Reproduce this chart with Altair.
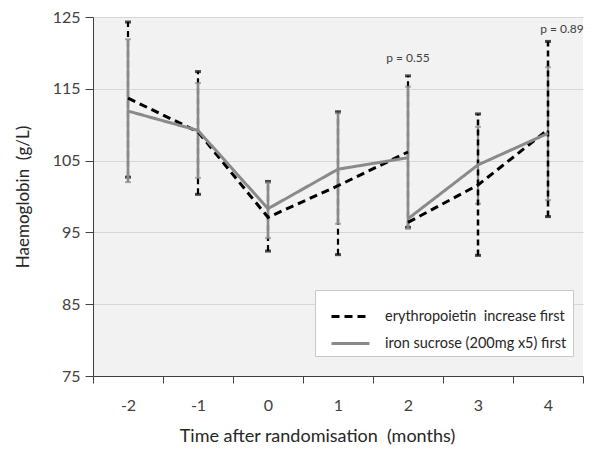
import altair as alt
import pandas as pd

NB = "\u00a0"
# ---- data ----
series_names = ["erythropoietin" + NB + " increase first", "iron sucrose (200mg x5) first"]

months_p1 = [-2, -1, 0, 1, 2]
months_p2 = [2, 3, 4]

epo_p1 = [113.7, 109.0, 97.1, 101.5, 106.2]
epo_p2 = [96.4, 101.6, 109.3]
iron_p1 = [111.9, 109.2, 98.3, 103.8, 105.4]
iron_p2 = [96.9, 104.4, 108.8]

months_err = [-2, -1, 0, 1, 2, 3, 4]
epo_low = [102.7, 100.3, 92.4, 91.9, 95.7, 91.8, 97.2]
epo_high = [124.3, 117.4, 102.1, 111.8, 116.8, 111.5, 121.6]
iron_low = [102.0, 102.6, 94.2, 96.2, 95.5, 99.0, 99.5]
iron_high = [121.9, 115.8, 101.9, 111.6, 115.3, 109.7, 118.0]

p_months = [2, 4]
p_values = [119.3, 123.3]
p_labels = ["p = 0.55", "p = 0.89"]

month_domain = [-2, -1, 0, 1, 2, 3, 4]

# ---- tables ----
rows = []
for m, v in zip(months_p1, epo_p1):
    rows.append(dict(month=m, hb=v, series=series_names[0], period="1"))
for m, v in zip(months_p2, epo_p2):
    rows.append(dict(month=m, hb=v, series=series_names[0], period="2"))
for m, v in zip(months_p1, iron_p1):
    rows.append(dict(month=m, hb=v, series=series_names[1], period="1"))
for m, v in zip(months_p2, iron_p2):
    rows.append(dict(month=m, hb=v, series=series_names[1], period="2"))
lines_df = pd.DataFrame(rows)

epo_err = pd.DataFrame(dict(month=months_err, low=epo_low, high=epo_high))
iron_err = pd.DataFrame(dict(month=months_err, low=iron_low, high=iron_high))
p_df = pd.DataFrame(dict(month=p_months, hb=p_values, label=p_labels))

FONT = "Lato"
BLACK = "#000000"
GREY = "#8a8a8a"

xscale = alt.Scale(type="band", domain=month_domain, paddingInner=0, paddingOuter=0)

xenc = alt.X(
    "month:O",
    bandPosition=0.5,
    scale=xscale,
    axis=alt.Axis(
        title="Time after randomisation" + NB + " (months)",
        labelAngle=0,
        tickBand="extent",
        tickSize=7,
        labelPadding=14,
        labelFontSize=16,
        labelColor="#404040",
        titleFontSize=18,
        titleFontWeight="normal",
        titleColor="#262626",
        titlePadding=14,
        titleX=224,
        domainColor="#404040",
        tickColor="#404040",
        labelFont=FONT,
        titleFont=FONT,
        grid=False,
    ),
)

yscale = alt.Scale(domain=[75, 125], nice=False, zero=False)
yaxis = alt.Axis(
    title="Haemoglobin" + NB + " (g/L)",
    values=[75, 85, 95, 105, 115, 125],
    tickSize=8,
    labelPadding=5,
    labelFontSize=16,
    labelColor="#404040",
    titleFontSize=17,
    titleFontWeight="normal",
    titleColor="#262626",
    titlePadding=20,
    domainColor="#404040",
    tickColor="#404040",
    gridColor="#d6d6d6",
    gridWidth=1,
    labelFont=FONT,
    titleFont=FONT,
)


def xe():
    return alt.X("month:O", bandPosition=0.5, scale=xscale)


def err_layers(df, color, dashed, width):
    if dashed:
        rmark = alt.Chart(df).mark_rule(color=color, strokeWidth=width, strokeDash=[6, 4])
    else:
        rmark = alt.Chart(df).mark_rule(color=color, strokeWidth=width)
    rule = rmark.encode(x=xe(), y=alt.Y("low:Q", scale=yscale), y2="high:Q")
    cap_lo = alt.Chart(df).mark_tick(color=color, size=6, thickness=3 if dashed else 2).encode(
        x=xe(), y=alt.Y("low:Q", scale=yscale))
    cap_hi = alt.Chart(df).mark_tick(color=color, size=6, thickness=3 if dashed else 2).encode(
        x=xe(), y=alt.Y("high:Q", scale=yscale))
    return [rule, cap_lo, cap_hi]


base_axes = alt.Chart(lines_df).mark_line(opacity=0).encode(
    x=xenc, y=alt.Y("hb:Q", scale=yscale, axis=yaxis)
)

epo_err_a = epo_err[epo_err.month <= 2]
epo_err_b = epo_err[epo_err.month > 2]
iron_err_a = iron_err[iron_err.month <= 2]
iron_err_b = iron_err[iron_err.month > 2]

layers = [base_axes]
layers += err_layers(epo_err_a, BLACK, True, 2.2)
layers += err_layers(iron_err_a, GREY, False, 2.6)
layers += err_layers(iron_err_b, GREY, False, 2.2)
layers += err_layers(epo_err_b, BLACK, True, 2.5)

lines = alt.Chart(lines_df).mark_line().encode(
    x=xe(),
    y=alt.Y("hb:Q", scale=yscale),
    detail="period:N",
    color=alt.Color(
        "series:N",
        scale=alt.Scale(domain=series_names, range=[BLACK, GREY]),
        legend=alt.Legend(
            title=None,
            orient="none",
            legendX=222,
            legendY=273,
            symbolType="stroke",
            symbolSize=1444,
            symbolStrokeWidth=3,
            symbolOffset=9,
            labelFontSize=14.5,
            labelFont=FONT,
            labelColor="#262626",
            labelOffset=14,
            rowPadding=-7,
            padding=6,
            fillColor="#ffffff",
            strokeColor="#c8c8c8",
            labelLimit=300,
            direction="vertical",
        ),
    ),
    strokeDash=alt.StrokeDash(
        "series:N",
        scale=alt.Scale(domain=series_names, range=[[8, 5], [1, 0]]),
    ),
    size=alt.value(3),
    order=alt.Order("series:N", sort="descending"),
)

p1 = alt.Chart(p_df[p_df.month == 2]).mark_text(fontSize=12, font=FONT, color="#404040").encode(
    x=xe(), y=alt.Y("hb:Q", scale=yscale), text="label:N")
p2 = alt.Chart(p_df[p_df.month == 4]).mark_text(fontSize=12, font=FONT, color="#404040", dx=14).encode(
    x=xe(), y=alt.Y("hb:Q", scale=yscale), text="label:N")

chart = alt.layer(*layers, lines, p1, p2).properties(
    width=490,
    height=359,
    background="#ffffff",
    autosize=alt.AutoSizeParams(type="none"),
    padding={"left": 85, "top": 9, "right": 7, "bottom": 74},
).configure_view(
    fill="#f2f2f2", stroke=None
)

chart.save("out.html", embed_options={"renderer": "svg", "actions": False})
